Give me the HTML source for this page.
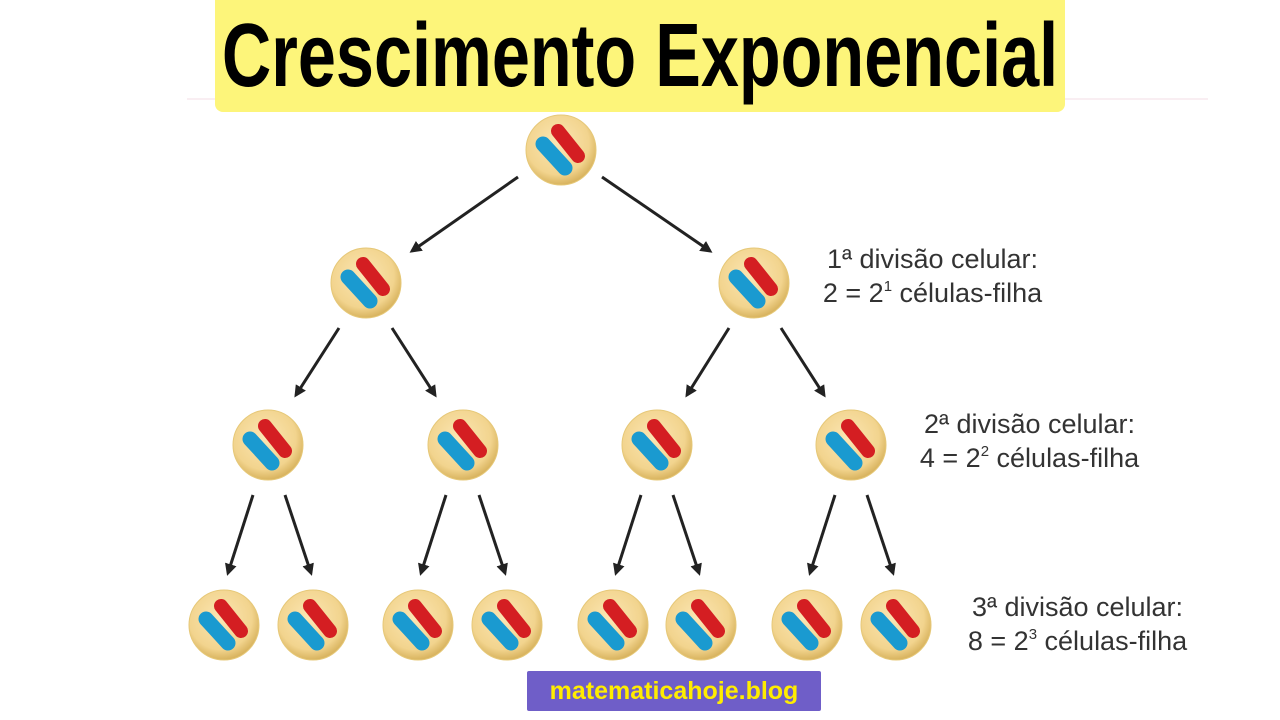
<!DOCTYPE html>
<html><head><meta charset="utf-8"><style>
body{margin:0;width:1280px;height:720px;background:#fff;overflow:hidden;position:relative;font-family:"Liberation Sans",sans-serif}
.title{position:absolute;left:215px;top:0;width:850px;height:112px;background:#fdf57a;border-radius:0 0 8px 8px}
.title span{position:absolute;left:-200px;width:1250px;top:6px;text-align:center;white-space:nowrap;font-weight:bold;font-size:90px;line-height:100px;color:#000;transform:scaleX(0.76);transform-origin:center}
.lbl{position:absolute;font-size:27px;line-height:34px;color:#333;text-align:center;white-space:nowrap}
.lbl sup{font-size:15px;vertical-align:11px;line-height:0}
.foot{position:absolute;left:527px;top:671px;width:294px;height:40px;background:#6f5ec8;color:#ffec00;font-weight:bold;font-size:25px;line-height:40px;text-align:center;border-radius:2px}
</style></head><body>
<svg width="1280" height="720" style="position:absolute;left:0;top:0">
<defs>
<radialGradient id="g" cx="45%" cy="40%" r="60%"><stop offset="0" stop-color="#fbe6b4"/><stop offset="0.75" stop-color="#f2d48e"/><stop offset="1" stop-color="#d8b35e"/></radialGradient>
<marker id="a" markerWidth="12" markerHeight="12" refX="9" refY="6" orient="auto" markerUnits="userSpaceOnUse"><path d="M0,0 L12,6 L0,12 Z" fill="#222"/></marker>
<g id="c"><circle r="35" fill="url(#g)" stroke="#e6c878" stroke-width="1"/>
<line x1="-18" y1="-6" x2="4" y2="18" stroke="#1a9ad0" stroke-width="15" stroke-linecap="round"/>
<line x1="-3" y1="-19" x2="17" y2="6" stroke="#d41e22" stroke-width="14" stroke-linecap="round"/></g>
</defs>
<line x1="187" y1="99" x2="1208" y2="99" stroke="#f3dce6" stroke-width="1"/>
<g stroke="#222" stroke-width="3" marker-end="url(#a)">
<line x1="518" y1="177" x2="412" y2="251"/><line x1="602" y1="177" x2="710" y2="251"/>
<line x1="339" y1="328" x2="296" y2="395"/><line x1="392" y1="328" x2="435" y2="395"/>
<line x1="729" y1="328" x2="687" y2="395"/><line x1="781" y1="328" x2="824" y2="395"/>
<line x1="253" y1="495" x2="228" y2="573"/><line x1="285" y1="495" x2="311" y2="573"/>
<line x1="446" y1="495" x2="421" y2="573"/><line x1="479" y1="495" x2="505" y2="573"/>
<line x1="641" y1="495" x2="616" y2="573"/><line x1="673" y1="495" x2="699" y2="573"/>
<line x1="835" y1="495" x2="810" y2="573"/><line x1="867" y1="495" x2="893" y2="573"/>
</g>
<use href="#c" x="561" y="150"/>
<use href="#c" x="366" y="283"/><use href="#c" x="754" y="283"/>
<use href="#c" x="268" y="445"/><use href="#c" x="463" y="445"/><use href="#c" x="657" y="445"/><use href="#c" x="851" y="445"/>
<use href="#c" x="224" y="625"/><use href="#c" x="313" y="625"/><use href="#c" x="418" y="625"/><use href="#c" x="507" y="625"/>
<use href="#c" x="613" y="625"/><use href="#c" x="701" y="625"/><use href="#c" x="807" y="625"/><use href="#c" x="896" y="625"/>
</svg>
<div class="title"><span>Crescimento Exponencial</span></div>
<div class="lbl" style="left:800px;top:242px;width:265px">1ª divisão celular:<br>2 = 2<sup>1</sup> células-filha</div>
<div class="lbl" style="left:897px;top:407px;width:265px">2ª divisão celular:<br>4 = 2<sup>2</sup> células-filha</div>
<div class="lbl" style="left:945px;top:590px;width:265px">3ª divisão celular:<br>8 = 2<sup>3</sup> células-filha</div>
<div class="foot">matematicahoje.blog</div>
</body></html>
